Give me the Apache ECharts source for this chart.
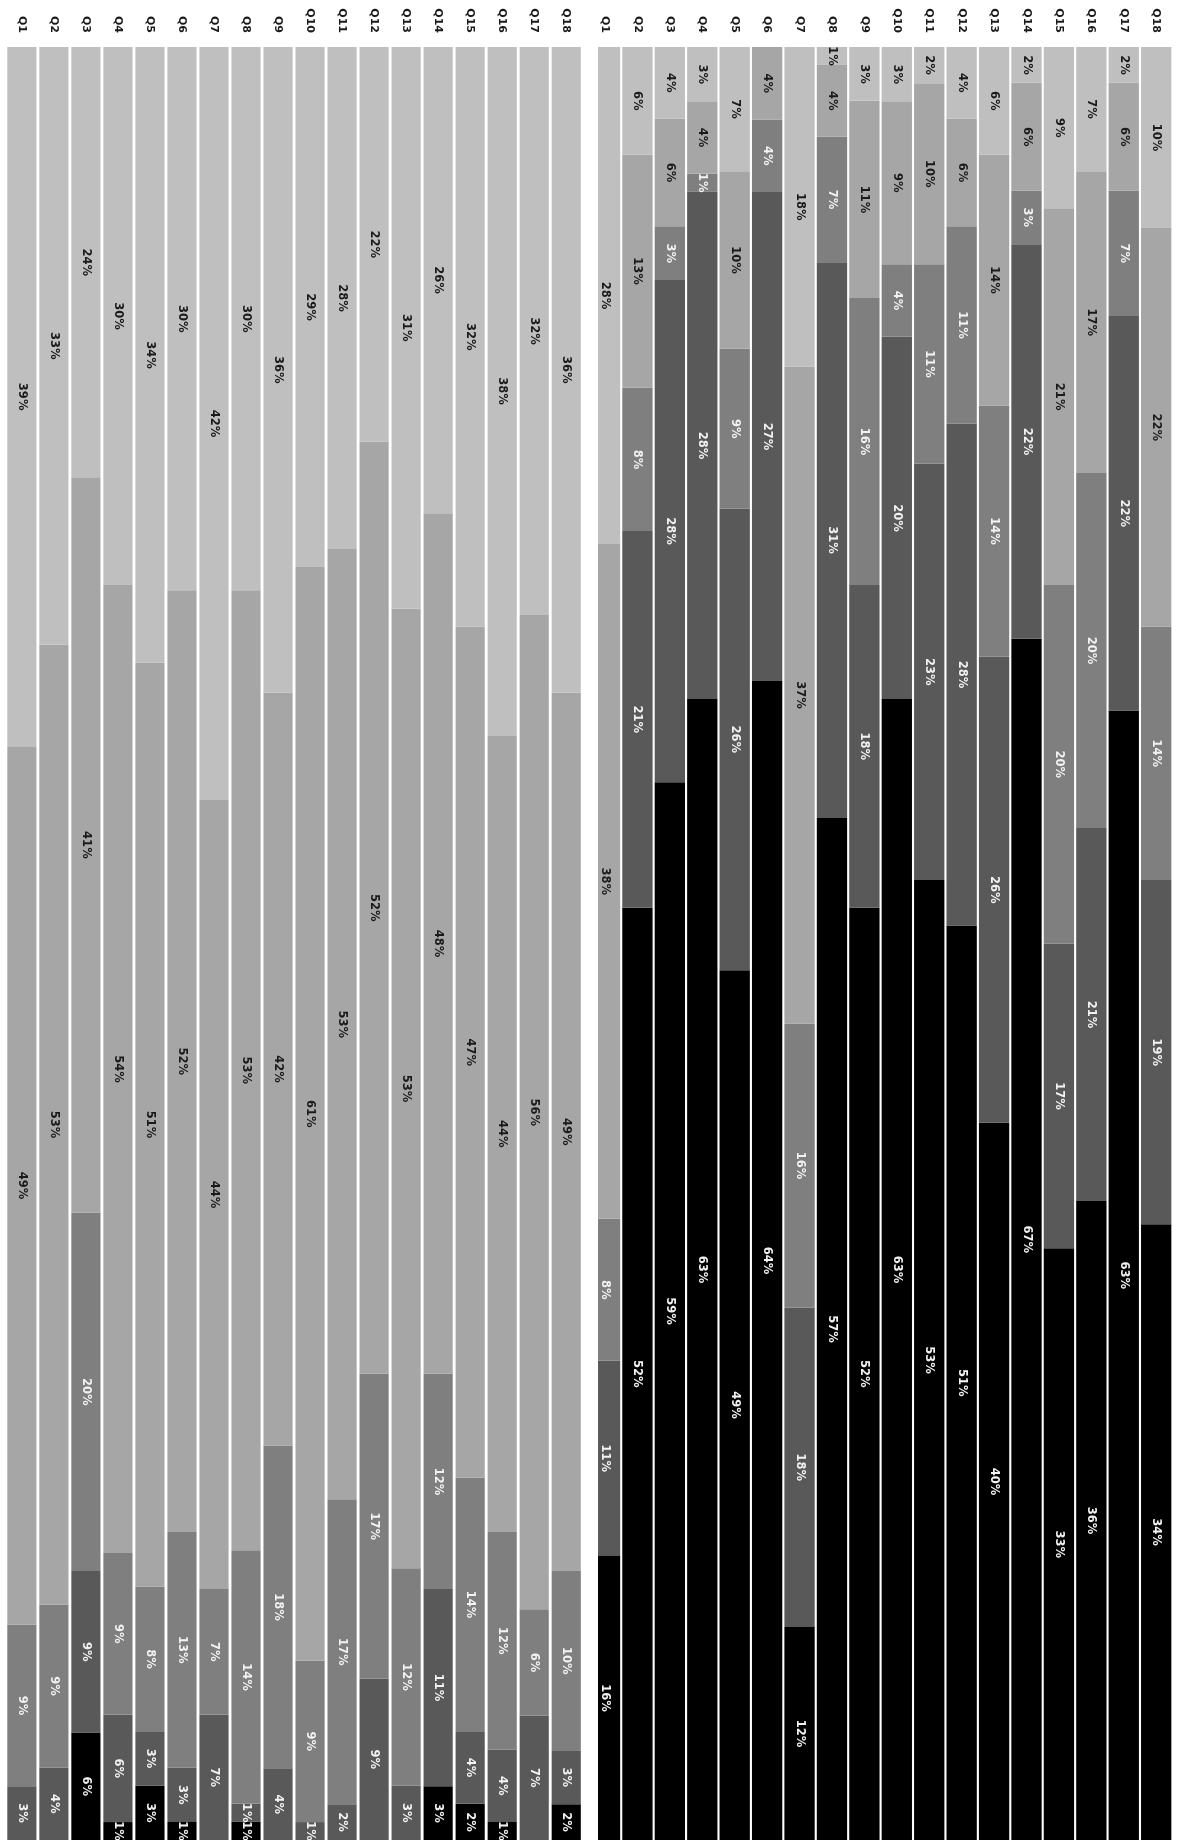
<!DOCTYPE html>
<html>
<head>
<meta charset="utf-8">
<script src="https://cdn.jsdelivr.net/npm/echarts@6/dist/echarts.min.js"></script>
<style>
html,body{margin:0;padding:0;background:#ffffff;}
#chart{width:1179px;height:1840px;}
</style>
</head>
<body>
<div id="chart"></div>
<script>
// ---- Data ----
const categories = ['Q1','Q2','Q3','Q4','Q5','Q6','Q7','Q8','Q9','Q10','Q11','Q12','Q13','Q14','Q15','Q16','Q17','Q18'];

// Left panel, from the top (lightest) segment to the bottom (black) segment
const leftLevel1 = [39,33,24,30,34,30,42,30,36,29,28,22,31,26,32,38,32,36];
const leftLevel2 = [49,53,41,54,51,52,44,53,42,61,53,52,53,48,47,44,56,49];
const leftLevel3 = [9,9,20,9,8,13,7,14,18,9,17,17,12,12,14,12,6,10];
const leftLevel4 = [3,4,9,6,3,3,7,1,4,1,2,9,3,11,4,4,7,3];
const leftLevel5 = [0,0,6,1,3,1,0,1,0,0,0,0,0,3,2,1,0,2];

// Right panel, from the top (lightest) segment to the bottom (black) segment
const rightLevel1 = [28,6,4,3,7,0,18,1,3,3,2,4,6,2,9,7,2,10];
const rightLevel2 = [38,13,6,4,10,4,37,4,11,9,10,6,14,6,21,17,6,22];
const rightLevel3 = [8,8,3,1,9,4,16,7,16,4,11,11,14,3,20,20,7,14];
const rightLevel4 = [11,21,28,28,26,27,18,31,18,20,23,28,26,22,17,21,22,19];
const rightLevel5 = [16,52,59,63,49,64,12,57,52,63,53,51,40,67,33,36,63,34];

const levelNames = ['Level 1','Level 2','Level 3','Level 4','Level 5'];
const levelColors = ['#bfbfbf','#a6a6a6','#7f7f7f','#595959','#000000'];
const levelTextColors = ['#1a1a1a','#1a1a1a','#f2f2f2','#f2f2f2','#f2f2f2'];
const FONT = 'DejaVu Sans';

function buildSeries(levels, gridIndex, gap) {
  const totals = categories.map((_, i) => levels.reduce((s, arr) => s + arr[i], 0));
  const out = [];
  for (let k = levels.length - 1; k >= 0; k--) {
    out.push({
      name: levelNames[k],
      type: 'bar',
      xAxisIndex: gridIndex,
      yAxisIndex: gridIndex,
      stack: 'panel' + gridIndex,
      barCategoryGap: gap,
      data: levels[k].map((v, i) => ({ value: v / totals[i] * 100, raw: v })),
      itemStyle: { color: levelColors[k] },
      emphasis: { disabled: true },
      label: {
        show: true,
        position: 'inside',
        rotate: -90,
        formatter: p => (p.data.raw ? p.data.raw + '%' : ''),
        color: levelTextColors[k],
        fontFamily: FONT,
        fontSize: 11.5,
        fontWeight: 'bold'
      }
    });
  }
  return out;
}

function xAxisFor(gridIndex) {
  return {
    type: 'category',
    gridIndex: gridIndex,
    data: categories,
    position: 'top',
    z: 5,
    axisTick: { show: false },
    axisLine: { show: true, lineStyle: { color: '#d9d9d9', width: 1 } },
    axisLabel: {
      rotate: -90,
      margin: 14,
      interval: 0,
      color: '#1a1a1a',
      fontFamily: FONT,
      fontSize: 11,
      fontWeight: 'bold'
    }
  };
}

function yAxisFor(gridIndex) {
  return { type: 'value', gridIndex: gridIndex, min: 0, max: 100, show: false, splitLine: { show: false } };
}

const chart = echarts.init(document.getElementById('chart'), null, { renderer: 'canvas' });
chart.setOption({
  animation: false,
  backgroundColor: '#ffffff',
  grid: [
    { left: 5.85, top: 47, width: 576.4, bottom: 0 },
    { left: 588.8, top: 47, width: 583.6, bottom: 0 }
  ],
  xAxis: [xAxisFor(0), xAxisFor(1)],
  yAxis: [yAxisFor(0), yAxisFor(1)],
  series: [].concat(
    buildSeries([leftLevel1, leftLevel2, leftLevel3, leftLevel4, leftLevel5], 0, '9%'),
    buildSeries([rightLevel1, rightLevel2, rightLevel3, rightLevel4, rightLevel5], 1, '6.5%')
  ),
  graphic: [
    { type: 'rect', z: 100, shape: { x: 583, y: 40, width: 15, height: 1800 }, style: { fill: '#ffffff' } }
  ]
});
</script>
</body>
</html>
